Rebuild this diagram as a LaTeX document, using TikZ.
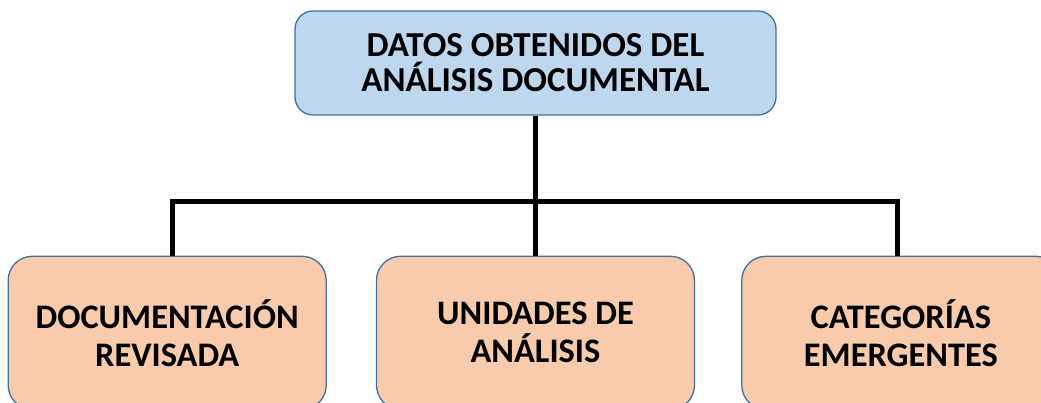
\documentclass[tikz,border=0pt]{standalone}
\usepackage{fontspec}
\setmainfont{Carlito}
\usepackage{tikz}
\usetikzlibrary{positioning, calc}

\definecolor{topfill}{HTML}{BDD7EE}
\definecolor{boxfill}{HTML}{F8CBAD}
\definecolor{boxline}{HTML}{41719C}

\begin{document}
\begin{tikzpicture}[
    x=1pt, y=-1pt,
    topbox/.style={rectangle, rounded corners=18pt, draw=boxline, line width=1.3pt, fill=topfill, minimum width=481pt, minimum height=104pt, align=center, font=\fontsize{35}{35}\selectfont\bfseries},
    itembox/.style={rectangle, rounded corners=24pt, draw=boxline, line width=1.3pt, fill=boxfill, minimum width=318pt, minimum height=153pt, align=center, font=\fontsize{34.4}{38}\selectfont\bfseries},
    link/.style={line width=5pt, black}
]
\useasboundingbox (0,0) rectangle (1041,403);

\node[topbox] (top) at (535.5,63) {\raisebox{-3pt}{DATOS OBTENIDOS DEL}\\\raisebox{-3pt}{ANÁLISIS DOCUMENTAL}};
\node[itembox, below=140pt of top] (uni) {UNIDADES DE\\ANÁLISIS};
\node[itembox, left=49pt of uni] (doc) {DOCUMENTACIÓN\\REVISADA};
\node[itembox, right=46pt of uni] (cat) {CATEGORÍAS\\EMERGENTES};

\coordinate (busl) at (172,201.5);
\coordinate (busr) at (897,201.5);

\draw[link] (top.south) -- (top.south |- busl);
\draw[link] (busl |- doc.north) -- (busl) -- (busr) -- (busr |- cat.north);
\draw[link] (top.south |- busl) -- (uni.north);

\end{tikzpicture}
\end{document}
